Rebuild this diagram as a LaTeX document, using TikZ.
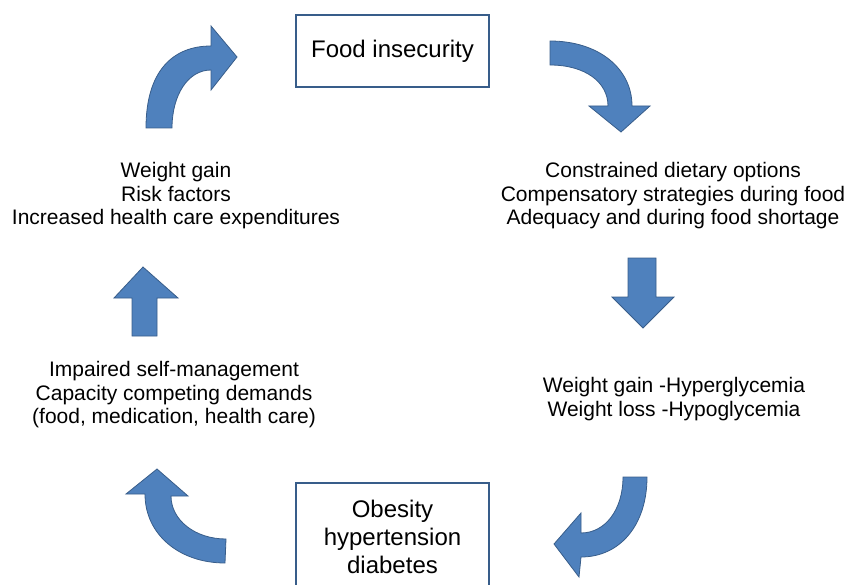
\documentclass[tikz,border=0pt]{standalone}
\usepackage{fontspec}
\setmainfont{Liberation Sans}
\usepackage{tikz}
\definecolor{arrowblue}{RGB}{79,129,189}
\definecolor{edgeblue}{RGB}{56,93,138}
\tikzset{
  box/.style={draw=edgeblue,line width=1.5pt,minimum width=193pt,align=center,font=\fontsize{24}{28}\selectfont},
  txt/.style={align=center,inner sep=0pt,font=\fontsize{21}{23.5}\selectfont},
  blockarrow/.style={fill=arrowblue,draw=edgeblue,line width=0.8pt,line join=miter}
}

\begin{document}
\begin{tikzpicture}[x=1pt,y=-1pt]
  \useasboundingbox (0,0) rectangle (853,585);
  \clip (0,0) rectangle (853,585);
  \node[box,minimum height=72pt] (food) at (392.5,51) {Food insecurity};
  \node[box,minimum height=108pt] (obesity) at (392.5,537) {Obesity\\hypertension\\diabetes};
  \node[txt] (options) at (673,196) {Constrained dietary options\\Compensatory strategies during food\\Adequacy and during food shortage};
  \node[txt] (glycemia) at (674,399) {Weight gain -Hyperglycemia\\Weight loss -Hypoglycemia};
  \node[txt] (selfcare) at (174,395) {Impaired self-management\\Capacity competing demands\\(food, medication, health care)};
  \node[txt] (costs) at (176,196) {Weight gain\\Risk factors\\Increased health care expenditures};
  \filldraw[blockarrow] (550,41) .. controls (598,41) and (632,68) .. (632,106) -- (650,106) -- (621,132) -- (589,106) -- (608,106) .. controls (608,82) and (585,65) .. (550,65) -- cycle;
  \filldraw[blockarrow] (628,258) -- (656,258) -- (656,297) -- (674,297) -- (643,328) -- (612,297) -- (628,297) -- cycle;
  \filldraw[blockarrow] (647,477) .. controls (647,525) and (620,557) .. (581,557) -- (579,577) -- (554,544) -- (581,513) -- (581,533) .. controls (605,533) and (623,510) .. (623,477) -- cycle;
  \filldraw[blockarrow] (225,563) .. controls (180,563) and (145,535) .. (145,494) -- (126,494) -- (157,469) -- (188,496) -- (171,496) .. controls (171,520) and (195,539) .. (226,539) -- cycle;
  \filldraw[blockarrow] (132,336) -- (157,336) -- (157,298) -- (178,298) -- (143,267) -- (114,298) -- (132,298) -- cycle;
  \filldraw[blockarrow] (146,128) .. controls (146,72) and (172,46) .. (211,46) -- (211,26) -- (237,57) -- (211,90) -- (211,70) .. controls (188,70) and (172,95) .. (172,128) -- cycle;
\end{tikzpicture}
\end{document}
